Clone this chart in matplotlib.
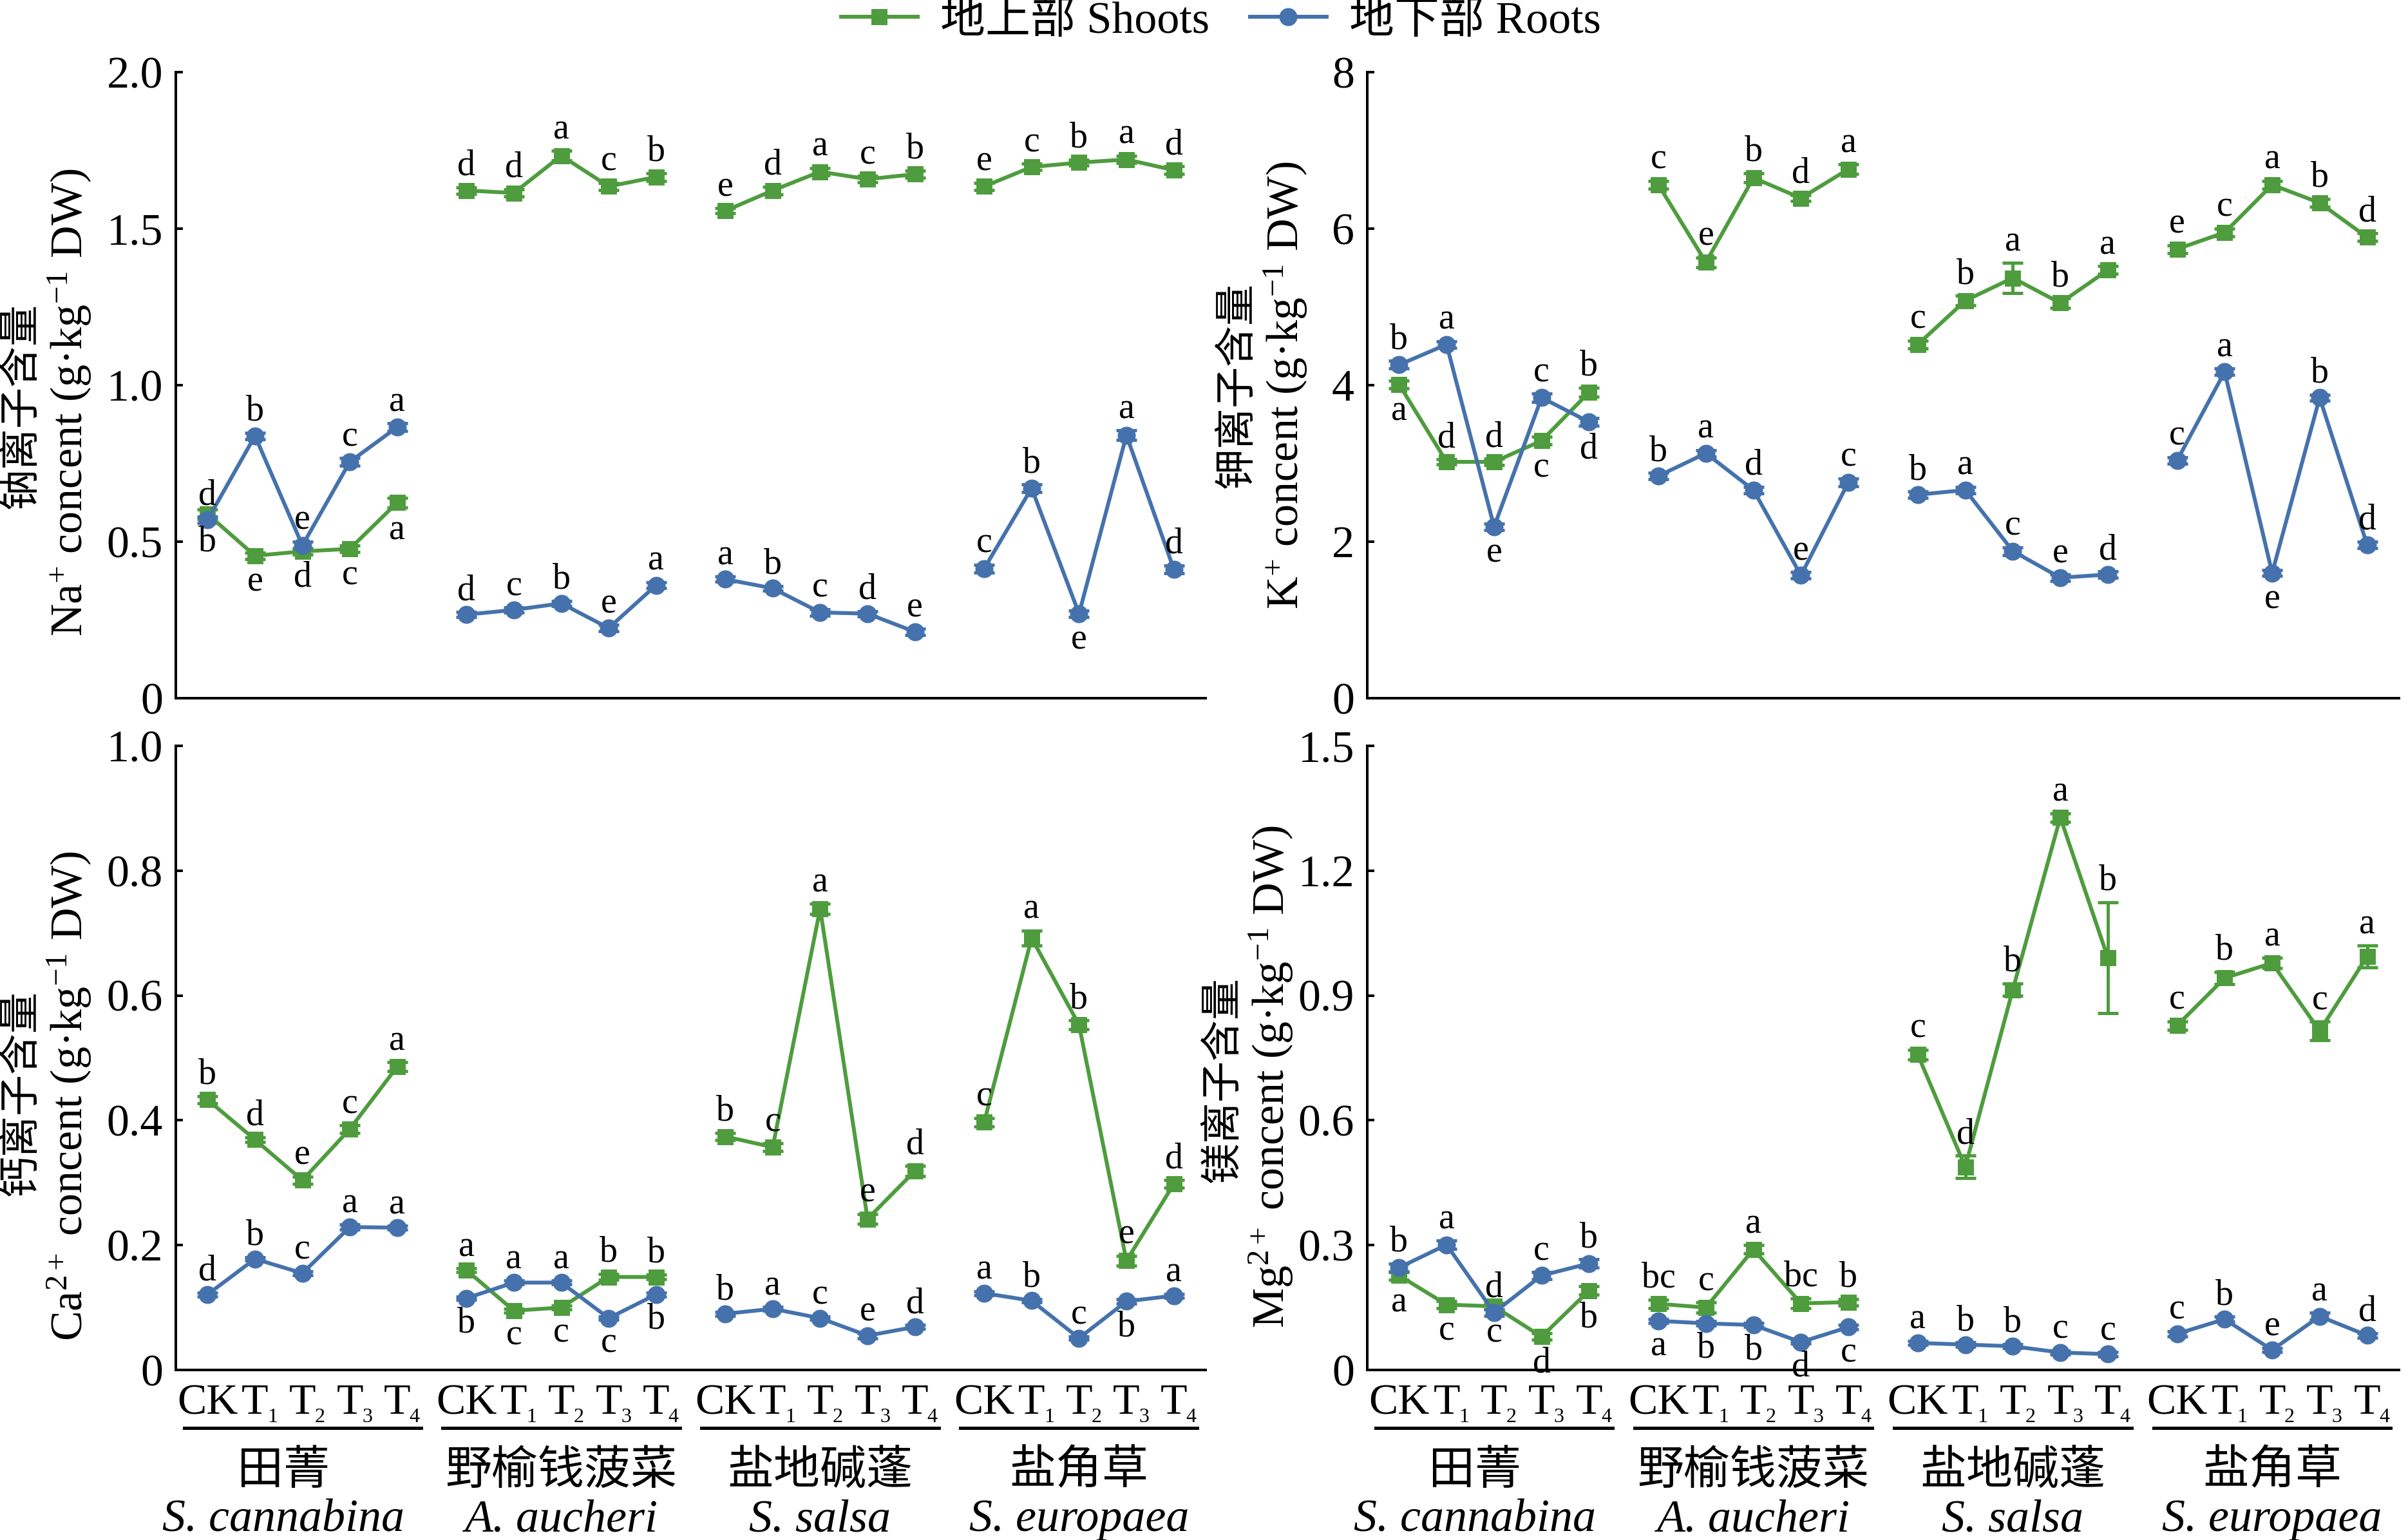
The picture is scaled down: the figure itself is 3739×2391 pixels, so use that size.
import matplotlib
matplotlib.use('Agg')
import matplotlib.pyplot as plt
import matplotlib.transforms as mtransforms
from matplotlib.lines import Line2D

W, H = 3739, 2391
DPI = 72
plt.rcParams['font.family'] = ['Liberation Serif', 'Noto Sans CJK SC']
plt.rcParams['mathtext.fontset'] = 'custom'
plt.rcParams['mathtext.rm'] = 'Liberation Serif'
plt.rcParams['mathtext.it'] = 'Liberation Serif:italic'
plt.rcParams['mathtext.bf'] = 'Liberation Serif:bold'

GREEN = '#4E9C3E'
BLUE = '#4572AC'

# treatment labels: main text and subscript
treat_main = ['CK', 'T', 'T', 'T', 'T']
treat_sub = ['', '1', '2', '3', '4']
species_cn = ['田菁', '野榆钱菠菜', '盐地碱蓬', '盐角草']
species_lat = ['S. cannabina', 'A. aucheri', 'S. salsa', 'S. europaea']

# ---------------- Na+ ----------------
na_shoot = [0.588, 0.455, 0.469, 0.477, 0.625,
            1.622, 1.614, 1.733, 1.635, 1.665,
            1.557, 1.622, 1.682, 1.658, 1.674,
            1.635, 1.697, 1.711, 1.721, 1.687]
na_shoot_err = [0.015, 0.010, 0.010, 0.010, 0.015,
                0.010, 0.012, 0.015, 0.012, 0.012,
                0.008, 0.012, 0.012, 0.010, 0.012,
                0.012, 0.010, 0.010, 0.012, 0.012]
na_shoot_let = ['b', 'e', 'd', 'c', 'a', 'd', 'd', 'a', 'c', 'b',
                'e', 'd', 'a', 'c', 'b', 'e', 'c', 'b', 'a', 'd']
na_shoot_pos = ['d', 'd', 'd', 'd', 'd', 'u', 'u', 'u', 'u', 'u',
                'u', 'u', 'u', 'u', 'u', 'u', 'u', 'u', 'u', 'u']
na_root = [0.570, 0.838, 0.488, 0.755, 0.866,
           0.267, 0.282, 0.303, 0.224, 0.361,
           0.380, 0.351, 0.274, 0.270, 0.212,
           0.414, 0.671, 0.270, 0.840, 0.412]
na_root_err = [0.010, 0.010, 0.012, 0.012, 0.012,
               0.008, 0.008, 0.008, 0.010, 0.010,
               0.008, 0.008, 0.010, 0.008, 0.010,
               0.012, 0.012, 0.010, 0.015, 0.012]
na_root_let = ['d', 'b', 'e', 'c', 'a', 'd', 'c', 'b', 'e', 'a',
               'a', 'b', 'c', 'd', 'e', 'c', 'b', 'e', 'a', 'd']
na_root_pos = ['u', 'u', 'u', 'u', 'u', 'u', 'u', 'u', 'u', 'u',
               'u', 'u', 'u', 'u', 'u', 'u', 'u', 'd', 'u', 'u']

# ---------------- K+ ----------------
k_shoot = [4.01, 3.02, 3.02, 3.29, 3.91,
           6.56, 5.57, 6.65, 6.39, 6.76,
           4.52, 5.08, 5.37, 5.05, 5.47,
           5.74, 5.95, 6.56, 6.33, 5.89]
k_shoot_err = [0.05, 0.03, 0.04, 0.05, 0.06,
               0.05, 0.06, 0.06, 0.04, 0.06,
               0.05, 0.06, 0.19, 0.06, 0.05,
               0.05, 0.05, 0.05, 0.05, 0.05]
k_shoot_let = ['a', 'd', 'd', 'c', 'b', 'c', 'e', 'b', 'd', 'a',
               'c', 'b', 'a', 'b', 'a', 'e', 'c', 'a', 'b', 'd']
k_shoot_pos = ['d', 'u', 'u', 'd', 'u', 'u', 'u', 'u', 'u', 'u',
               'u', 'u', 'u', 'u', 'u', 'u', 'u', 'u', 'u', 'u']
k_root = [4.26, 4.52, 2.19, 3.84, 3.53,
          2.84, 3.13, 2.66, 1.57, 2.76,
          2.60, 2.66, 1.88, 1.54, 1.58,
          3.04, 4.17, 1.60, 3.84, 1.96]
k_root_err = [0.05, 0.04, 0.04, 0.05, 0.05,
              0.04, 0.04, 0.04, 0.04, 0.05,
              0.04, 0.04, 0.05, 0.04, 0.04,
              0.04, 0.04, 0.04, 0.04, 0.04]
k_root_let = ['b', 'a', 'e', 'c', 'd', 'b', 'a', 'd', 'e', 'c',
              'b', 'a', 'c', 'e', 'd', 'c', 'a', 'e', 'b', 'd']
k_root_pos = ['u', 'u', 'd', 'u', 'd', 'u', 'u', 'u', 'u', 'u',
              'u', 'u', 'u', 'u', 'u', 'u', 'u', 'd', 'u', 'u']

# ---------------- Ca2+ ----------------
ca_shoot = [0.433, 0.369, 0.304, 0.386, 0.486,
            0.160, 0.095, 0.100, 0.149, 0.149,
            0.374, 0.357, 0.739, 0.242, 0.319,
            0.397, 0.692, 0.553, 0.175, 0.298]
ca_shoot_err = [0.006, 0.004, 0.006, 0.006, 0.007,
                0.003, 0.003, 0.003, 0.005, 0.004,
                0.006, 0.006, 0.008, 0.008, 0.008,
                0.007, 0.012, 0.007, 0.008, 0.006]
ca_shoot_let = ['b', 'd', 'e', 'c', 'a', 'a', 'c', 'c', 'b', 'b',
                'b', 'c', 'a', 'e', 'd', 'c', 'a', 'b', 'e', 'd']
ca_shoot_pos = ['u', 'u', 'u', 'u', 'u', 'u', 'd', 'd', 'u', 'u',
                'u', 'u', 'u', 'u', 'u', 'u', 'u', 'u', 'u', 'u']
ca_root = [0.121, 0.178, 0.155, 0.229, 0.228,
           0.115, 0.140, 0.140, 0.083, 0.121,
           0.090, 0.098, 0.083, 0.055, 0.069,
           0.123, 0.111, 0.051, 0.110, 0.119]
ca_root_err = [0.003, 0.003, 0.003, 0.004, 0.003,
               0.003, 0.003, 0.003, 0.003, 0.003,
               0.003, 0.003, 0.003, 0.004, 0.003,
               0.003, 0.003, 0.003, 0.004, 0.003]
ca_root_let = ['d', 'b', 'c', 'a', 'a', 'b', 'a', 'a', 'c', 'b',
               'b', 'a', 'c', 'e', 'd', 'a', 'b', 'c', 'b', 'a']
ca_root_pos = ['u', 'u', 'u', 'u', 'u', 'd', 'u', 'u', 'd', 'd',
               'u', 'u', 'u', 'u', 'u', 'u', 'u', 'u', 'd', 'u']

# ---------------- Mg2+ ----------------
mg_shoot = [0.227, 0.157, 0.153, 0.080, 0.191,
            0.159, 0.150, 0.290, 0.160, 0.163,
            0.758, 0.488, 0.914, 1.328, 0.991,
            0.828, 0.942, 0.978, 0.815, 0.994]
mg_shoot_err = [0.010, 0.008, 0.008, 0.008, 0.010,
                0.010, 0.012, 0.010, 0.012, 0.008,
                0.012, 0.027, 0.015, 0.010, 0.133,
                0.010, 0.015, 0.012, 0.022, 0.026]
mg_shoot_let = ['a', 'c', 'c', 'd', 'b', 'bc', 'c', 'a', 'bc', 'b',
                'c', 'd', 'b', 'a', 'b', 'c', 'b', 'a', 'c', 'a']
mg_shoot_pos = ['d', 'd', 'd', 'd', 'd', 'u', 'u', 'u', 'u', 'u',
                'u', 'u', 'u', 'u', 'u', 'u', 'u', 'u', 'u', 'u']
mg_root = [0.246, 0.301, 0.138, 0.227, 0.256,
           0.118, 0.112, 0.108, 0.067, 0.103,
           0.065, 0.061, 0.057, 0.042, 0.038,
           0.087, 0.122, 0.048, 0.129, 0.083]
mg_root_err = [0.010, 0.010, 0.008, 0.008, 0.010,
               0.005, 0.005, 0.005, 0.004, 0.006,
               0.005, 0.005, 0.005, 0.005, 0.005,
               0.006, 0.006, 0.005, 0.008, 0.006]
mg_root_let = ['b', 'a', 'd', 'c', 'b', 'a', 'b', 'b', 'd', 'c',
               'a', 'b', 'b', 'c', 'c', 'c', 'b', 'e', 'a', 'd']
mg_root_pos = ['u', 'u', 'u', 'u', 'u', 'd', 'd', 'd', 'd', 'd',
               'u', 'u', 'u', 'u', 'u', 'u', 'u', 'u', 'u', 'u']

panels = [
    dict(shoot=na_shoot, se=na_shoot_err, sl=na_shoot_let, sp=na_shoot_pos,
         root=na_root, re=na_root_err, rl=na_root_let, rp=na_root_pos,
         ticks=[0, 0.5, 1.0, 1.5, 2.0], tlabels=['0', '0.5', '1.0', '1.5', '2.0'],
         cn='钠离子含量', en='Na$^{+}$ concent (g·kg$^{-1}$ DW)',
         box=(273, 112, 1872, 1084), cnpos=(32, 630), enpos=(108, 625), bottom=False),
    dict(shoot=k_shoot, se=k_shoot_err, sl=k_shoot_let, sp=k_shoot_pos,
         root=k_root, re=k_root_err, rl=k_root_let, rp=k_root_pos,
         ticks=[0, 2, 4, 6, 8], tlabels=['0', '2', '4', '6', '8'],
         cn='钾离子含量', en='K$^{+}$ concent (g·kg$^{-1}$ DW)',
         box=(2123, 112, 3725, 1084), cnpos=(1920, 598), enpos=(1996, 598), bottom=False),
    dict(shoot=ca_shoot, se=ca_shoot_err, sl=ca_shoot_let, sp=ca_shoot_pos,
         root=ca_root, re=ca_root_err, rl=ca_root_let, rp=ca_root_pos,
         ticks=[0, 0.2, 0.4, 0.6, 0.8, 1.0], tlabels=['0', '0.2', '0.4', '0.6', '0.8', '1.0'],
         cn='钙离子含量', en='Ca$^{2+}$ concent (g·kg$^{-1}$ DW)',
         box=(273, 1158, 1872, 2127), cnpos=(32, 1697), enpos=(108, 1701), bottom=True),
    dict(shoot=mg_shoot, se=mg_shoot_err, sl=mg_shoot_let, sp=mg_shoot_pos,
         root=mg_root, re=mg_root_err, rl=mg_root_let, rp=mg_root_pos,
         ticks=[0, 0.3, 0.6, 0.9, 1.2, 1.5], tlabels=['0', '0.3', '0.6', '0.9', '1.2', '1.5'],
         cn='镁离子含量', en='Mg$^{2+}$ concent (g·kg$^{-1}$ DW)',
         box=(2123, 1158, 3725, 2127), cnpos=(1898, 1676), enpos=(1974, 1672), bottom=True),
]

GSTEP = 5.46
NT = len(treat_main)
NG = len(species_cn)

fig = plt.figure(figsize=(W / DPI, H / DPI), dpi=DPI)

for p in panels:
    x0, y0, x1, y1 = p['box']
    ax = fig.add_axes([x0 / W, 1 - y1 / H, (x1 - x0) / W, (y1 - y0) / H])
    for side in ['top', 'right']:
        ax.spines[side].set_visible(False)
    for side in ['left', 'bottom']:
        ax.spines[side].set_linewidth(4)
    ax.set_xlim(-0.67, GSTEP * (NG - 1) + NT - 1 + 0.67)
    ax.set_ylim(p['ticks'][0], p['ticks'][-1])
    ax.set_yticks(p['ticks'])
    ax.set_yticklabels(p['tlabels'])
    ax.tick_params(axis='y', direction='in', length=11, width=4, labelsize=70, pad=20)
    ax.set_xticks([])

    for series, err, lets, poss, color, marker, ms in [
            (p['shoot'], p['se'], p['sl'], p['sp'], GREEN, 's', 24),
            (p['root'], p['re'], p['rl'], p['rp'], BLUE, 'o', 27)]:
        for g in range(NG):
            xs = [g * GSTEP + i for i in range(NT)]
            ys = series[g * NT:(g + 1) * NT]
            es = err[g * NT:(g + 1) * NT]
            ax.errorbar(xs, ys, yerr=es, color=color, marker=marker, ms=ms,
                        lw=6, elinewidth=5, capsize=16, capthick=5,
                        clip_on=False, zorder=3)
            for i in range(NT):
                k = g * NT + i
                if poss[k] == 'u':
                    ax.annotate(lets[k], xy=(xs[i], ys[i] + es[i]), xytext=(0, 19),
                                textcoords='offset points', ha='center', va='baseline',
                                fontsize=56, zorder=5)
                else:
                    ax.annotate(lets[k], xy=(xs[i], ys[i] - es[i]), xytext=(0, -10),
                                textcoords='offset points', ha='center', va='top',
                                fontsize=56, zorder=5)

    if p['bottom']:
        trans = mtransforms.blended_transform_factory(ax.transData, ax.transAxes)
        for g in range(NG):
            c0 = g * GSTEP
            for i in range(NT):
                xt = c0 + i
                ax.annotate(treat_main[i], xy=(xt, 0), xycoords=trans, xytext=(0, -68),
                            textcoords='offset points', ha='center', va='baseline',
                            fontsize=68, annotation_clip=False)
                if treat_sub[i]:
                    ax.annotate(treat_sub[i], xy=(xt, 0), xycoords=trans, xytext=(19, -81),
                                textcoords='offset points', ha='left', va='baseline',
                                fontsize=32, annotation_clip=False)
            ax.add_line(Line2D([c0 - 0.5, c0 + NT - 0.5], [-0.093, -0.093], transform=trans,
                               color='black', lw=5, clip_on=False))
            cx = c0 + (NT - 1) / 2 + (-0.4 if g == 0 else 0.0)
            ax.text(cx, -0.161, species_cn[g], transform=trans, ha='center', va='center',
                    fontsize=72, family=['Noto Sans CJK SC'])
            ax.text(cx, -0.240, species_lat[g], transform=trans, ha='center', va='center',
                    fontsize=72, style='italic', family=['Liberation Serif'])

    fig.text(p['cnpos'][0] / W, 1 - p['cnpos'][1] / H, p['cn'], rotation=90,
             ha='center', va='center', fontsize=64, family=['Noto Sans CJK SC'])
    fig.text(p['enpos'][0] / W, 1 - p['enpos'][1] / H, p['en'], rotation=90,
             ha='center', va='center', fontsize=70)

handles = [Line2D([], [], color=GREEN, marker='s', ms=24, lw=6),
           Line2D([], [], color=BLUE, marker='o', ms=27, lw=6)]
fig.legend(handles, ['地上部 Shoots', '地下部 Roots'], loc='center',
           bbox_to_anchor=(0.507, 1 - 33 / H), ncol=2, frameon=False, fontsize=70,
           handlelength=1.7, handletextpad=0.5, columnspacing=0.9)

fig.savefig('out.png', dpi=DPI)
